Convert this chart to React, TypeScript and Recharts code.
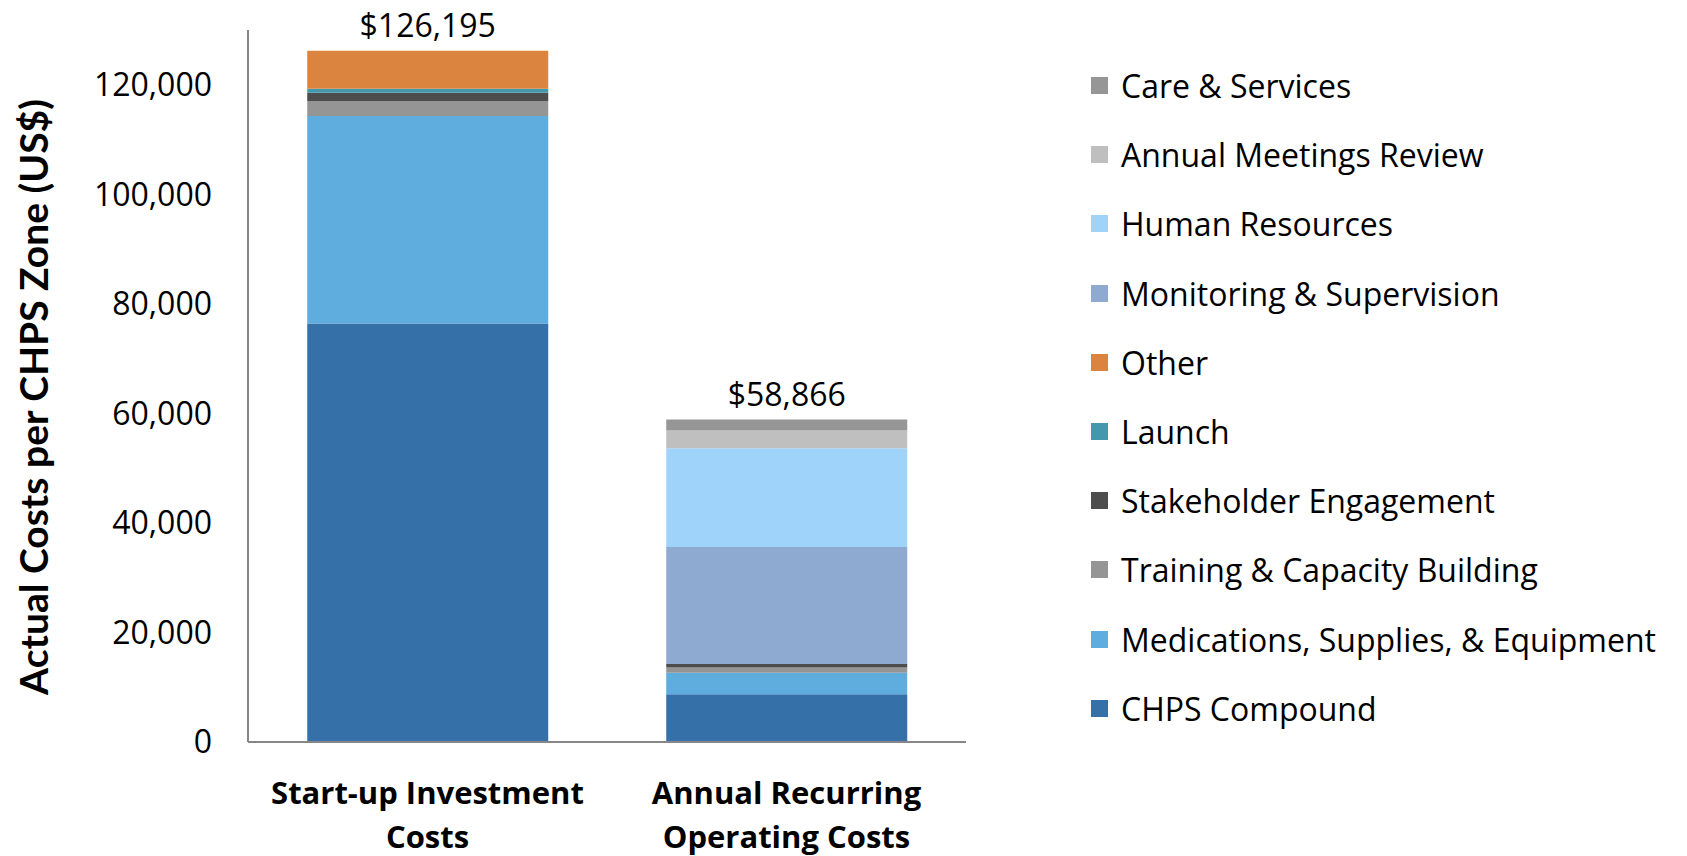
import React from 'react'
import { BarChart, Bar, XAxis, YAxis, LabelList } from 'recharts'

const categories = ['Start-up Investment Costs', 'Annual Recurring Operating Costs']
const tickLines = [
  ['Start-up Investment', 'Costs'],
  ['Annual Recurring', 'Operating Costs'],
]
const yTicks = [0, 20000, 40000, 60000, 80000, 100000, 120000]
const totals = [126195, 58866]

// stack order, bottom to top
const chpsCompound = [76420, 8700]
const medications = [37880, 3930]
const training = [2740, 990]
const stakeholder = [1510, 600]
const launch = [730, 0]
const other = [6915, 0]
const monitoring = [0, 21400]
const humanResources = [0, 18030]
const annualMeetings = [0, 3230]
const careServices = [0, 1986]

const series = [
  { key: 'chps', name: 'CHPS Compound', color: '#3571a8', values: chpsCompound },
  { key: 'meds', name: 'Medications, Supplies, & Equipment', color: '#5fadde', values: medications },
  { key: 'training', name: 'Training & Capacity Building', color: '#959595', values: training },
  { key: 'stake', name: 'Stakeholder Engagement', color: '#4d4d4d', values: stakeholder },
  { key: 'launch', name: 'Launch', color: '#4398ae', values: launch },
  { key: 'other', name: 'Other', color: '#db843f', values: other },
  { key: 'monitor', name: 'Monitoring & Supervision', color: '#8eaad1', values: monitoring },
  { key: 'hr', name: 'Human Resources', color: '#a0d3f9', values: humanResources },
  { key: 'meet', name: 'Annual Meetings Review', color: '#bfbfbf', values: annualMeetings },
  { key: 'care', name: 'Care & Services', color: '#969696', values: careServices },
]

const data = categories.map((name, i) => {
  const row: Record<string, number | string> = { name, total: totals[i] }
  series.forEach((s) => (row[s.key] = s.values[i]))
  return row
})

// which series sits on top of each stack (gets the total label)
const topSeries = categories.map((_, idx) => {
  let top = 0
  series.forEach((s, i) => {
    if (s.values[idx] > 0) top = i
  })
  return top
})

const FONT = '"Open Sans", sans-serif'

const CategoryTick = (props: any) => {
  const { x, y, index } = props
  const lines = tickLines[index] || []
  return (
    <text x={x} y={y} textAnchor="middle" fontFamily={FONT} fontWeight={700} fontSize={31} fill="#000">
      {lines.map((l, i) => (
        <tspan key={i} x={x} dy={i === 0 ? 54 : 44}>
          {l}
        </tspan>
      ))}
    </text>
  )
}

export default function App() {
  return (
    <div style={{ position: 'fixed', left: 0, top: 0, width: 1687, height: 856, background: '#fff' }}>
      <BarChart
        width={1687}
        height={856}
        data={data}
        margin={{ top: 30, right: 721, bottom: 14, left: 98 }}
        barCategoryGap="16.5%"
      >
        <XAxis
          dataKey="name"
          axisLine={{ stroke: '#868686', strokeWidth: 2 }}
          tickLine={false}
          height={100}
          interval={0}
          tick={<CategoryTick />}
        />
        <YAxis
          width={150}
          domain={[0, 130000]}
          ticks={yTicks}
          allowDataOverflow
          axisLine={{ stroke: '#868686', strokeWidth: 2 }}
          tickLine={false}
          tickSize={0}
          tickMargin={36}
          tickFormatter={(v: number) => v.toLocaleString('en-US')}
          tick={{ fontFamily: FONT, fontSize: 32, fill: '#000' }}
          label={{
            value: 'Actual Costs per CHPS Zone (US$)',
            angle: -90,
            position: 'insideLeft',
            dx: -69,
            dy: 11,
            style: { fontFamily: 'Lato, sans-serif', fontWeight: 700, fontSize: 39, fill: '#000', textAnchor: 'middle' },
          }}
        />
        {series.map((s, i) => (
          <Bar key={s.key} dataKey={s.key} name={s.name} stackId="a" fill={s.color} isAnimationActive={false}>
            <LabelList
              dataKey="total"
              content={(p: any) => {
                const idx = totals.indexOf(Number(p.value))
                if (idx < 0 || topSeries[idx] !== i) return null
                return (
                  <text
                    x={p.x + p.width / 2}
                    y={p.y - 14}
                    textAnchor="middle"
                    fontFamily={FONT}
                    fontSize={32}
                    fill="#000"
                  >
                    {'$' + Number(p.value).toLocaleString('en-US')}
                  </text>
                )
              }}
            />
          </Bar>
        ))}
      </BarChart>
      <div style={{ position: 'absolute', left: 1091, top: 51, fontFamily: FONT, fontSize: 32, color: '#000' }}>
        {[...series].reverse().map((s) => (
          <div key={s.key} style={{ display: 'flex', alignItems: 'center', height: 69.2 }}>
            <span style={{ width: 17, height: 17, background: s.color, display: 'inline-block', marginRight: 13 }} />
            <span>{s.name}</span>
          </div>
        ))}
      </div>
    </div>
  )
}
